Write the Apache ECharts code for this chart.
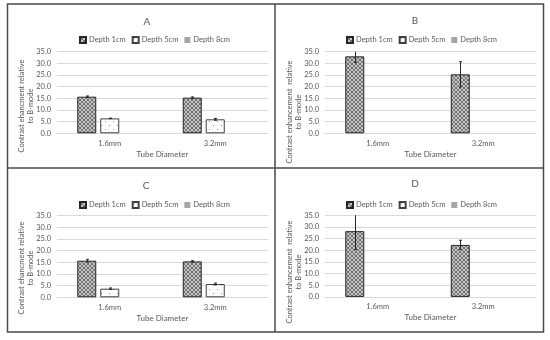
<!DOCTYPE html>
<html><head><meta charset="utf-8">
<script src="https://cdn.jsdelivr.net/npm/echarts@6/dist/echarts.min.js"></script>
<style>html,body{margin:0;padding:0;background:#fff}#c{width:550px;height:340px}</style>
</head><body><div id="c"></div>
<script>
// ---- data ----
const categories = ['1.6mm', '3.2mm'];
const seriesNames = ['Depth 1cm', 'Depth 5cm', 'Depth 8cm'];
const yTicks = [0, 5, 10, 15, 20, 25, 30, 35];
const panelTitles = ['A', 'B', 'C', 'D'];
const yTitlesAC = 'Contrast ehancment relative\nto B-mode';
const yTitlesBD = 'Contrast enhancement  relative\nto B-mode';
const xTitle = 'Tube Diameter';

const A_depth1 = [15.7, 15.3];
const A_depth1Err = [0.3, 0.3];
const A_depth5 = [6.4, 6.0];
const A_depth5Err = [0.1, 0.4];
const A_depth8 = [null, null];

const B_depth1 = [33.0, 25.3];
const B_depth1Err = [2.6, 5.4];
const B_depth5 = [null, null];
const B_depth5Err = [null, null];
const B_depth8 = [null, null];

const C_depth1 = [15.7, 15.4];
const C_depth1Err = [0.6, 0.3];
const C_depth5 = [3.7, 5.7];
const C_depth5Err = [0.3, 0.4];
const C_depth8 = [null, null];

const D_depth1 = [28.2, 22.3];
const D_depth1Err = [7.9, 2.0];
const D_depth5 = [null, null];
const D_depth5Err = [null, null];
const D_depth8 = [null, null];

// ---- styles ----
function hatch() {
  const c = document.createElement('canvas'); c.width = 4; c.height = 4;
  const g = c.getContext('2d');
  g.fillStyle = '#c4c4c4'; g.fillRect(0, 0, 4, 4);
  g.fillStyle = '#6e6e6e';
  [[0,0],[1,1],[2,2],[3,3],[3,0],[0,3]].forEach(p => g.fillRect(p[0], p[1], 1, 1));
  g.fillStyle = '#8c8c8c';
  [[2,1],[1,2]].forEach(p => g.fillRect(p[0], p[1], 1, 1));
  return c;
}
function dots() {
  const c = document.createElement('canvas'); c.width = 8; c.height = 8;
  const g = c.getContext('2d');
  g.fillStyle = '#ffffff'; g.fillRect(0, 0, 8, 8);
  g.fillStyle = '#9a9a9a';
  g.fillRect(1, 1, 1, 1); g.fillRect(5, 5, 1, 1);
  return c;
}
const hatchFill = { image: hatch(), repeat: 'repeat' };
const dotFill = { image: dots(), repeat: 'repeat' };
const txt = '#595959';
const FONT = 'Lato, "Open Sans", sans-serif';

const panels = [
  { d1: A_depth1, e1: A_depth1Err, d5: A_depth5, e5: A_depth5Err, d8: A_depth8,
    grid: { left: 57, top: 51.7, width: 211, height: 81.6 }, title: [142, 12], legend: [74, 31],
    yTitle: yTitlesAC, yT: [26, 106] },
  { d1: B_depth1, e1: B_depth1Err, d5: B_depth5, e5: B_depth5Err, d8: B_depth8,
    grid: { left: 325, top: 51.7, width: 211, height: 81.6 }, title: [410, 11], legend: [341, 31],
    yTitle: yTitlesBD, yT: [294, 112] },
  { d1: C_depth1, e1: C_depth1Err, d5: C_depth5, e5: C_depth5Err, d8: C_depth8,
    grid: { left: 57, top: 215.7, width: 211, height: 81.6 }, title: [141, 176], legend: [74, 196],
    yTitle: yTitlesAC, yT: [26, 268] },
  { d1: D_depth1, e1: D_depth1Err, d5: D_depth5, e5: D_depth5Err, d8: D_depth8,
    grid: { left: 325, top: 215.3, width: 211, height: 81.6 }, title: [410, 174], legend: [341, 196],
    yTitle: yTitlesBD, yT: [294, 272] }
];

const BW = 19, GAP = 4;
function errSeries(i, vals, errs, off) {
  const data = vals.map((v, k) => [k, v, errs[k]]).filter(d => d[1] != null && d[2] != null);
  return {
    type: 'custom', xAxisIndex: i, yAxisIndex: i, clip: true, silent: true, z: 5,
    data: data,
    renderItem(params, api) {
      const x = api.value(0), v = api.value(1), e = api.value(2);
      const hi = api.coord([x, v + e]), lo = api.coord([x, v - e]);
      const cx = Math.round(hi[0] + off) + 0.5;
      const st = { stroke: '#262626', lineWidth: 1 };
      return { type: 'group', children: [
        { type: 'line', shape: { x1: cx, y1: hi[1], x2: cx, y2: lo[1] }, style: st },
        { type: 'line', shape: { x1: cx - 1.5, y1: hi[1], x2: cx + 1.5, y2: hi[1] }, style: st },
        { type: 'line', shape: { x1: cx - 1.5, y1: lo[1], x2: cx + 1.5, y2: lo[1] }, style: st }
      ]};
    }
  };
}

const option = {
  animation: false,
  backgroundColor: '#fff',
  textStyle: { fontFamily: FONT },
  title: panels.map((p, i) => ({ text: panelTitles[i], left: p.title[0], top: p.title[1],
    textAlign: 'center', textStyle: { fontSize: 10, fontWeight: 'normal', color: txt, fontFamily: FONT } })),
  legend: panels.map((p, i) => ({ data: seriesNames, left: p.legend[0], top: p.legend[1],
    itemWidth: 6, itemHeight: 6, itemGap: 6, icon: 'rect', selectedMode: false,
    textStyle: { fontSize: 7.5, color: txt, fontFamily: FONT, padding: [0, 0, 0, -2] } })),
  grid: panels.map(p => Object.assign({ containLabel: false }, p.grid)),
  xAxis: panels.map((p, i) => ({ type: 'category', gridIndex: i, data: categories,
    axisLine: { lineStyle: { color: '#d9d9d9' } }, axisTick: { show: false },
    axisLabel: { fontSize: 7.5, color: txt, margin: 6, fontFamily: FONT },
    name: xTitle, nameLocation: 'middle', nameGap: 17,
    nameTextStyle: { fontSize: 8, color: txt, fontFamily: FONT } })),
  yAxis: panels.map((p, i) => ({ type: 'value', gridIndex: i, min: 0, max: 35, interval: 5,
    axisLine: { show: false }, axisTick: { show: false },
    splitLine: { lineStyle: { color: '#d9d9d9' } },
    axisLabel: { fontSize: 7.5, color: txt, margin: 6, fontFamily: FONT,
      formatter: v => yTicks.includes(v) ? v.toFixed(1) : '' } })),
  graphic: [
    { type: 'rect', shape: { x: 7.5, y: 4, width: 536, height: 328 }, style: { fill: 'none', stroke: '#4a4a4a', lineWidth: 1.5 }, z: 100 },
    { type: 'line', shape: { x1: 275, y1: 4, x2: 275, y2: 332 }, style: { stroke: '#4a4a4a', lineWidth: 1.5 }, z: 100 },
    { type: 'line', shape: { x1: 7.5, y1: 168, x2: 543.5, y2: 168 }, style: { stroke: '#4a4a4a', lineWidth: 1.5 }, z: 100 }
  ].concat(panels.map(p => ({ type: 'text', x: p.yT[0], y: p.yT[1], rotation: Math.PI / 2,
    style: { text: p.yTitle, align: 'center', verticalAlign: 'middle', fill: txt,
      font: '7.5px ' + FONT, lineHeight: 8.5 } }))),
  series: []
};

panels.forEach((p, i) => {
  option.series.push(
    { name: seriesNames[0], type: 'bar', xAxisIndex: i, yAxisIndex: i, data: p.d1, barWidth: BW, barGap: (GAP / BW * 100) + '%',
      itemStyle: { color: hatchFill, borderColor: '#262626', borderWidth: 1 } },
    { name: seriesNames[1], type: 'bar', xAxisIndex: i, yAxisIndex: i, data: p.d5, barWidth: BW, barGap: (GAP / BW * 100) + '%',
      itemStyle: { color: dotFill, borderColor: '#404040', borderWidth: 1 } },
    { name: seriesNames[2], type: 'bar', xAxisIndex: i, yAxisIndex: i, data: p.d8, barWidth: BW, barGap: (GAP / BW * 100) + '%',
      itemStyle: { color: '#a6a6a6' } },
    errSeries(i, p.d1, p.e1, -(BW + GAP)),
    errSeries(i, p.d5, p.e5, 0)
  );
});

const chart = echarts.init(document.getElementById('c'), null, { renderer: 'canvas' });
chart.setOption(option);
</script>
</body></html>
